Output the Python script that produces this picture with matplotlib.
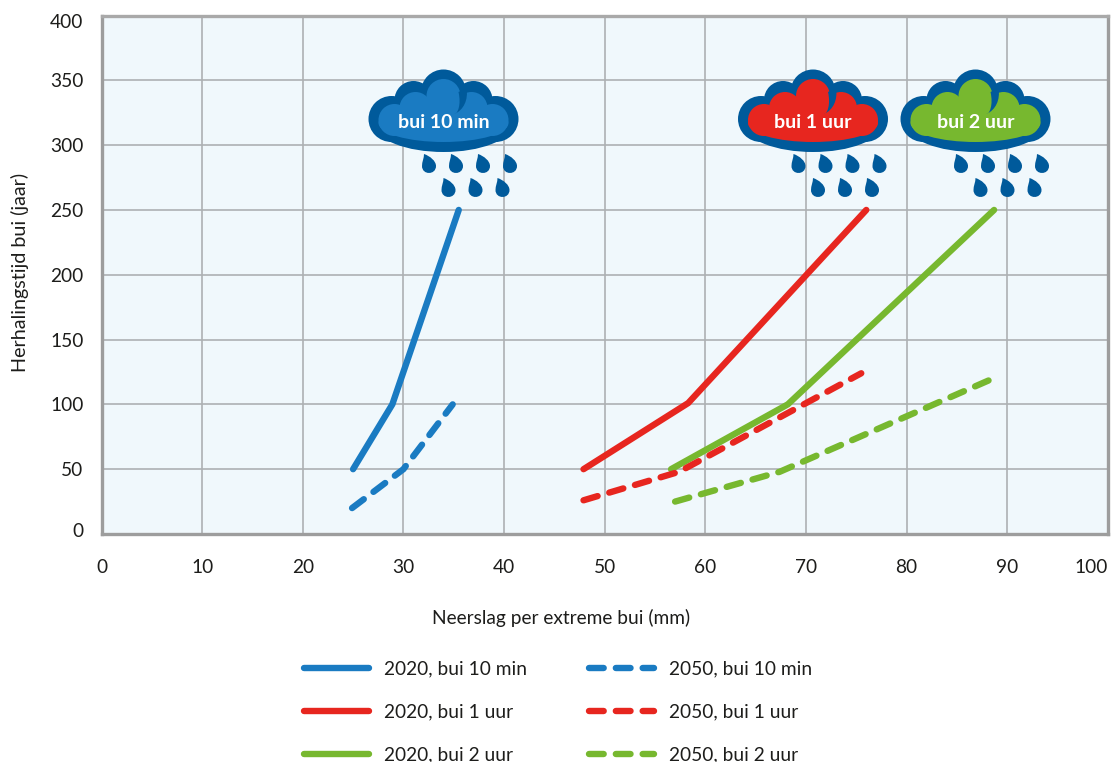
import matplotlib
matplotlib.use("Agg")
import matplotlib.pyplot as plt
from matplotlib.patches import Circle, Ellipse, PathPatch
from matplotlib.path import Path
from matplotlib.transforms import ScaledTranslation

plt.rcParams["font.family"] = ["Lato", "DejaVu Sans"]

# data
x_10min_2020 = [25.0, 28.9, 35.5]
y_10min_2020 = [50, 100, 250]
x_10min_2050 = [24.9, 30.0, 34.9]
y_10min_2050 = [20, 50, 100]
x_1uur_2020 = [47.9, 58.3, 76.0]
y_1uur_2020 = [50, 101, 250]
x_1uur_2050 = [47.9, 57.4, 75.5]
y_1uur_2050 = [26, 48, 124]
x_2uur_2020 = [56.6, 68.2, 88.7]
y_2uur_2020 = [50, 100, 250]
x_2uur_2050 = [57.0, 67.4, 89.2]
y_2uur_2050 = [25, 48, 122]

x_ticks = [0, 10, 20, 30, 40, 50, 60, 70, 80, 90, 100]
y_ticks = [0, 50, 100, 150, 200, 250, 300, 350, 400]

BLUE = "#1a7bc2"
DARK = "#005a9b"
RED = "#e7261f"
GREEN = "#77b82f"
GRID = "#adb0b3"
FRAME = "#9d9d9d"
TEXT = "#1d1d1b"
FS = 13.8
W, H = 1111, 762


def draw_cloud(ov, cx, fill, label):
    # outer shape in dark blue, inner shape in the colour of the shower
    for dx, y, r in [(-52, 119, 23), (52, 119, 23), (-30, 100, 19), (30, 100, 19), (0, 92, 22.5)]:
        ov.add_patch(Circle((cx + dx, y), r, fc=DARK, ec="none"))
    ov.add_patch(Ellipse((cx, 125), 136, 54, fc=DARK, ec="none"))
    for dx, y, r in [(-49, 120, 16), (49, 120, 16), (-28, 108, 16), (28, 108, 16), (0, 96, 17)]:
        ov.add_patch(Circle((cx + dx, y), r, fc=fill, ec="none"))
    ov.add_patch(Ellipse((cx, 123), 130, 38, fc=fill, ec="none"))
    # small crescent right of the top lobe
    verts = [(cx + 15, 92), (cx + 18, 105), (cx + 14, 114), (cx + 11, 114),
             (cx + 20, 110), (cx + 25, 100), (cx + 23, 88), (cx + 15, 92)]
    codes = [Path.MOVETO, Path.CURVE4, Path.CURVE4, Path.CURVE4,
             Path.CURVE4, Path.CURVE4, Path.CURVE4, Path.CLOSEPOLY]
    ov.add_patch(PathPatch(Path(verts, codes), fc=DARK, ec="none"))
    ov.text(cx, 122, label, color="white", fontsize=14, fontweight="bold", ha="center", va="center")
    for row_y, offsets in [(166, [-14.5, 12.5, 39.5, 66.5]), (190, [5, 32, 59])]:
        for dx in offsets:
            draw_drop(ov, cx + dx, row_y)


def draw_drop(ov, x, y):
    verts = [(x - 5, y - 12), (x + 1, y - 10), (x + 7, y - 5), (x + 7, y),
             (x + 7, y + 9.3), (x - 7, y + 9.3), (x - 7, y),
             (x - 7, y - 4), (x - 5, y - 8), (x - 5, y - 12)]
    codes = [Path.MOVETO] + [Path.CURVE4] * 9
    ov.add_patch(PathPatch(Path(verts, codes), fc=DARK, ec="none"))


fig = plt.figure(figsize=(W / 100, H / 100), dpi=100)
ax = fig.add_axes([101.5 / W, 1 - 534 / H, (1107.8 - 101.5) / W, (534 - 15.5) / H])
ax.set_facecolor("#f0f8fc")
ax.set_xlim(0, 100)
ax.set_ylim(0, 400)
ax.grid(True, color=GRID, linewidth=1.2)
ax.set_axisbelow(True)
for name, spine in ax.spines.items():
    spine.set_linewidth(2.4)
    spine.set_color(FRAME if name in ("left", "bottom", "right") else "#a9a9a9")

solid = dict(linewidth=4.6, solid_capstyle="round", solid_joinstyle="miter")
dashed = dict(linewidth=4.6, dash_capstyle="round", dash_joinstyle="miter", dashes=(2.3, 1.9))
l1, = ax.plot(x_10min_2020, y_10min_2020, color=BLUE, label="2020, bui 10 min", **solid)
l2, = ax.plot(x_1uur_2020, y_1uur_2020, color=RED, label="2020, bui 1 uur", **solid)
l3, = ax.plot(x_2uur_2020, y_2uur_2020, color=GREEN, label="2020, bui 2 uur", **solid)
l4, = ax.plot(x_10min_2050, y_10min_2050, color=BLUE, label="2050, bui 10 min", **dashed)
l5, = ax.plot(x_1uur_2050, y_1uur_2050, color=RED, label="2050, bui 1 uur", **dashed)
l6, = ax.plot(x_2uur_2050, y_2uur_2050, color=GREEN, label="2050, bui 2 uur", **dashed)

ax.set_xticks(x_ticks)
ax.set_yticks(y_ticks)
ax.tick_params(length=0, labelsize=FS, colors=TEXT)
ax.tick_params(axis="x", pad=18)
ax.tick_params(axis="y", pad=13)
ax.get_xticklabels()[-1].set_ha("right")
# the outer y labels sit a little inside the axis range
lab0 = ax.get_yticklabels()[0]
lab0.set_transform(lab0.get_transform() + ScaledTranslation(0, 4 / 100, fig.dpi_scale_trans))
lab400 = ax.get_yticklabels()[-1]
lab400.set_transform(lab400.get_transform() + ScaledTranslation(0, -5 / 100, fig.dpi_scale_trans))

fig.text(561 / W, 1 - 618 / H, "Neerslag per extreme bui (mm)", fontsize=FS, color=TEXT, ha="center", va="center")
fig.text(20 / W, 1 - 272 / H, "Herhalingstijd bui (jaar)", fontsize=14.2, color=TEXT, ha="center", va="center", rotation=90)

fig.legend(handles=[l1, l2, l3, l4, l5, l6], ncol=2, frameon=False, fontsize=FS,
           loc="upper left", bbox_to_anchor=(304 / W, 1 - 660.5 / H), borderaxespad=0, borderpad=0,
           handlelength=3.39, handletextpad=0.8, labelspacing=1.35, columnspacing=3.2,
           labelcolor=TEXT)

# overlay in pixel coordinates for the cloud icons
ov = fig.add_axes([0, 0, 1, 1], facecolor="none")
ov.set_xlim(0, W)
ov.set_ylim(H, 0)
ov.axis("off")
draw_cloud(ov, 443.5, BLUE, "bui 10 min")
draw_cloud(ov, 813, RED, "bui 1 uur")
draw_cloud(ov, 975.5, GREEN, "bui 2 uur")

fig.savefig("out.png", dpi=100)
